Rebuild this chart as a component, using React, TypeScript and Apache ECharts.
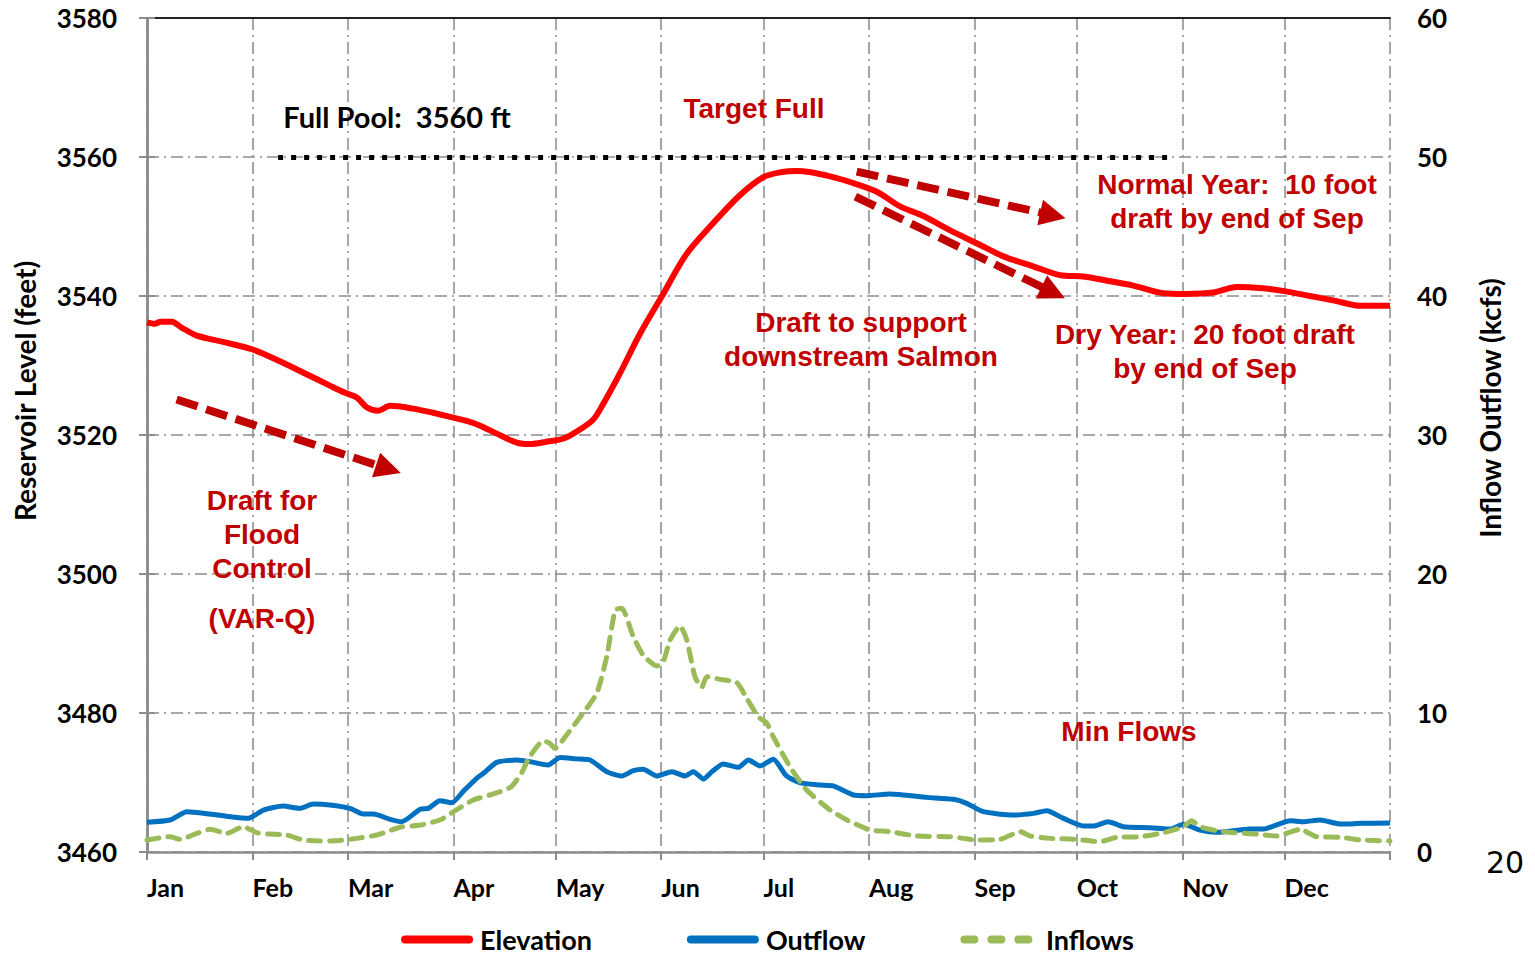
import React, { useEffect, useRef } from "react";
import * as echarts from "echarts";

// ---- Data ----
const monthStarts = [0, 31, 59, 90, 120, 151, 181, 212, 243, 273, 304, 334];
const monthLabels = ["Jan", "Feb", "Mar", "Apr", "May", "Jun", "Jul", "Aug", "Sep", "Oct", "Nov", "Dec"];
const elevTicks = [3460, 3480, 3500, 3520, 3540, 3560, 3580];
const flowTicks = [0, 10, 20, 30, 40, 50, 60];

const elevDays = [0, 2.3, 4, 7.3, 10, 14.6, 22.3, 31, 39, 45.8, 53.7, 58, 61.6, 64.5, 67.9, 71.4, 78.1, 84, 89, 94.8, 98, 102.7, 108.6, 112.5, 117, 122.3, 126.2, 131, 134, 138.9, 144.8, 151.1, 158.5, 166.3, 174.1, 181, 186, 190.8, 195, 200.6, 206.4, 214.3, 221.1, 228, 236, 243.6, 251.5, 260, 268.1, 275, 282, 289.6, 298.4, 305, 313.1, 320, 327.8, 334, 341.5, 349, 356.2, 365];
const elevValues = [3536.2, 3536.0, 3536.3, 3536.3, 3535.5, 3534.3, 3533.4, 3532.3, 3530.6, 3529.0, 3527.1, 3526.1, 3525.4, 3524.0, 3523.5, 3524.2, 3523.8, 3523.2, 3522.6, 3521.9, 3521.3, 3520.2, 3518.9, 3518.7, 3519.0, 3519.5, 3520.5, 3522.2, 3524.5, 3528.9, 3534.6, 3539.9, 3546.1, 3550.5, 3554.5, 3557.1, 3557.8, 3558.0, 3557.8, 3557.2, 3556.4, 3555.0, 3552.9, 3551.5, 3549.4, 3547.6, 3545.7, 3544.3, 3543.0, 3542.8, 3542.2, 3541.5, 3540.4, 3540.3, 3540.5, 3541.3, 3541.1, 3540.7, 3540.0, 3539.3, 3538.6, 3538.6];

const outDays = [0, 6.8, 11.7, 18.5, 24.4, 29.7, 34.2, 40, 44.9, 48.8, 53.7, 59.6, 63.5, 66.5, 71.4, 74.8, 80.2, 82.6, 86, 89.5, 93, 96.8, 98.8, 102.7, 108.6, 112.5, 117.8, 121.3, 126, 130.1, 135, 139.4, 142.8, 145.7, 149.7, 154.1, 158, 160.4, 163.4, 166, 169.2, 173.6, 176.6, 180, 183.9, 187.8, 191.7, 197.6, 201.5, 207.4, 211.3, 218.2, 229, 236.8, 240.7, 245.6, 254.4, 260.3, 264.2, 269.1, 275, 277.9, 282.3, 286.7, 294.5, 300.4, 304.3, 309.2, 314.1, 323.9, 327.8, 335.7, 339.6, 344.5, 350.4, 356.8, 365];
const outValues = [2.14, 2.3, 2.9, 2.73, 2.54, 2.42, 3.02, 3.31, 3.14, 3.45, 3.38, 3.14, 2.73, 2.73, 2.35, 2.18, 3.07, 3.14, 3.69, 3.55, 4.4, 5.3, 5.66, 6.45, 6.62, 6.5, 6.26, 6.79, 6.7, 6.62, 5.78, 5.47, 5.85, 5.95, 5.47, 5.78, 5.47, 5.78, 5.25, 5.8, 6.33, 6.09, 6.62, 6.19, 6.67, 5.47, 4.99, 4.82, 4.75, 4.1, 4.05, 4.17, 3.93, 3.79, 3.5, 2.9, 2.66, 2.78, 2.97, 2.42, 1.87, 1.87, 2.18, 1.82, 1.75, 1.65, 1.99, 1.58, 1.42, 1.65, 1.65, 2.25, 2.18, 2.3, 2.01, 2.06, 2.09];

const inDays = [0, 6.8, 9.7, 14.6, 18.5, 23.4, 28.3, 32.2, 36.1, 41, 45.9, 50.8, 55.7, 61.6, 67.5, 74.3, 80.2, 86, 90, 95.8, 100.7, 103.7, 107, 110, 112.5, 116.4, 118.3, 119.8, 123.2, 129.1, 132.1, 135, 137.5, 139.4, 142.8, 145.7, 149.7, 151.6, 153.6, 156.5, 158.5, 160.9, 162.9, 164.4, 168.3, 173.2, 176.1, 179.5, 182, 183.9, 188.8, 193.7, 200.6, 205.5, 209.4, 212.3, 218.2, 226, 235.8, 239.7, 243.6, 250.5, 256.4, 259.3, 265.2, 273, 279.8, 284.7, 291.6, 298.4, 304.3, 306.7, 309.2, 314.1, 319, 325.9, 331.7, 338.6, 343.5, 350.4, 356.8, 365];
const inValues = [0.86, 1.1, 0.91, 1.34, 1.63, 1.34, 1.82, 1.39, 1.29, 1.22, 0.86, 0.79, 0.81, 0.98, 1.22, 1.78, 1.94, 2.3, 2.9, 3.74, 4.1, 4.34, 4.7, 5.7, 6.9, 8.0, 7.82, 7.46, 8.42, 10.34, 11.42, 14.05, 17.41, 17.53, 15.49, 14.17, 13.38, 13.69, 15.25, 16.26, 15.25, 12.61, 11.85, 12.61, 12.42, 12.18, 11.06, 9.73, 9.26, 8.29, 6.14, 4.46, 3.02, 2.3, 1.87, 1.58, 1.46, 1.15, 1.1, 0.98, 0.86, 0.91, 1.46, 1.15, 0.98, 0.91, 0.74, 1.06, 1.1, 1.39, 1.82, 2.25, 1.82, 1.53, 1.39, 1.29, 1.15, 1.63, 1.1, 1.06, 0.86, 0.8];

const fullPool = 3560;
const fullPoolRange = [38.5, 301];
// arrows: [startDay, startElev, endDay, endElev]
const arrowFlood = [8.7, 3525.1, 70.9, 3515.1];
const arrowNormal = [208.4, 3557.9, 266.0, 3551.6];
const arrowDry = [208, 3554.3, 266.1, 3540.5];

const RED_TXT = "#C00000";
const AX_FONT = "Lato, 'Noto Sans', sans-serif";
const ANN_FONT = "'Liberation Sans', Arial, sans-serif";
const gridDash = { color: "#8c8c8c", width: 1.5, type: [12, 5, 2, 5] as any };

const ICON_SOLID = "path://M4,0 L68,0 A4,4 0 0 1 68,8 L4,8 A4,4 0 0 1 4,0 Z";
const ICON_DASH =
  "path://M4,0 L14,0 A4,4 0 0 1 14,8 L4,8 A4,4 0 0 1 4,0 Z M31,0 L41,0 A4,4 0 0 1 41,8 L31,8 A4,4 0 0 1 31,0 Z M58,0 L68,0 A4,4 0 0 1 68,8 L58,8 A4,4 0 0 1 58,0 Z";

export default function App() {
  const ref = useRef<HTMLDivElement>(null);
  useEffect(() => {
    if (!ref.current) return;
    const chart = echarts.init(ref.current, null, { renderer: "svg" });
    const pair = (xs: number[], ys: number[]) => xs.map((x, i) => [x, ys[i]]);
    const arrowLine = (a: number[]) => [{ coord: [a[0], a[1]] }, { coord: [a[2], a[3]] }];
    const annText = (text: string, x: number, y: number, color = RED_TXT, font = ANN_FONT, size = 28) => ({
      type: "text",
      x,
      y,
      z: 100,
      style: {
        text,
        fill: color,
        font: `bold ${size}px ${font}`,
        textAlign: "center",
        textVerticalAlign: "middle",
        lineHeight: 34,
      },
    });
    chart.setOption({
      animation: false,
      backgroundColor: "#ffffff",
      grid: { left: 147, right: 145, top: 18, bottom: 104, containLabel: false },
      xAxis: [
        {
          type: "value",
          min: 0,
          max: 365,
          position: "bottom",
          axisLine: { show: true, lineStyle: { color: "#8c8c8c", width: 2.5 } },
          axisTick: { show: true, length: 8, customValues: [...monthStarts, 365], lineStyle: { color: "#8c8c8c", width: 2 } },
          axisLabel: {
            show: true,
            customValues: monthStarts,
            formatter: (v: number) => monthLabels[monthStarts.indexOf(Math.round(v))] ?? "",
            align: "left",
            margin: 22,
            color: "#000",
            fontFamily: AX_FONT,
            fontWeight: "bold",
            fontSize: 25,
          },
          splitLine: { show: true, lineStyle: gridDash },
        },
        {
          type: "value",
          min: 0,
          max: 365,
          position: "top",
          axisLine: { show: true, onZero: false, lineStyle: { color: "#222", width: 2 } },
          axisTick: { show: false },
          axisLabel: { show: false },
          splitLine: { show: false },
        },
      ],
      yAxis: [
        {
          type: "value",
          min: elevTicks[0],
          max: elevTicks[elevTicks.length - 1],
          interval: 20,
          position: "left",
          axisLine: { show: true, lineStyle: { color: "#8c8c8c", width: 2.5 } },
          axisTick: { show: true, length: 8, lineStyle: { color: "#8c8c8c", width: 2 } },
          axisLabel: {
            margin: 30,
            color: "#000",
            fontFamily: AX_FONT,
            fontWeight: "bold",
            fontSize: 26,
            formatter: (v: number) => String(v),
          },
          splitLine: { show: true, lineStyle: gridDash },
        },
        {
          type: "value",
          min: flowTicks[0],
          max: flowTicks[flowTicks.length - 1],
          interval: 10,
          position: "right",
          axisLine: { show: true, lineStyle: { color: "#8c8c8c", width: 2.5 } },
          axisTick: { show: true, length: 8, lineStyle: { color: "#8c8c8c", width: 2 } },
          axisLabel: {
            margin: 27,
            color: "#000",
            fontFamily: AX_FONT,
            fontWeight: "bold",
            fontSize: 26,
            formatter: (v: number) => String(v),
          },
          splitLine: { show: false },
        },
      ],
      legend: {
        data: [
          { name: "Elevation", icon: ICON_SOLID, itemStyle: { color: "#FF0000", borderWidth: 0 } },
          { name: "Outflow", icon: ICON_SOLID, itemStyle: { color: "#0070C0", borderWidth: 0 } },
          { name: "Inflows", icon: ICON_DASH, itemStyle: { color: "#9BBB59", borderWidth: 0 } },
        ],
        left: "center",
        top: 921,
        itemWidth: 72,
        itemHeight: 8,
        itemGap: 95,
        formatter: (n: string) => (n === "Inflows" ? " " + n : n),
        textStyle: {
          color: "#000",
          fontFamily: AX_FONT,
          fontWeight: "bold",
          fontSize: 27,
          padding: [0, 0, 0, 2],
        },
      },
      series: [
        {
          name: "Elevation",
          type: "line",
          yAxisIndex: 0,
          data: pair(elevDays, elevValues),
          symbol: "none",
          smooth: 0.3,
          color: "#FF0000",
          lineStyle: { color: "#FF0000", width: 6 },
          z: 3,
          markLine: {
            silent: true,
            symbol: ["none", "none"],
            label: { show: false },
            lineStyle: { color: "#000", width: 5, type: [5, 8] as any },
            data: [[{ coord: [fullPoolRange[0], fullPool] }, { coord: [fullPoolRange[1], fullPool] }]],
          },
        },
        {
          name: "Outflow",
          type: "line",
          yAxisIndex: 1,
          data: pair(outDays, outValues),
          symbol: "none",
          smooth: 0.2,
          color: "#0070C0",
          lineStyle: { color: "#0070C0", width: 5 },
          z: 2,
        },
        {
          name: "Inflows",
          type: "line",
          yAxisIndex: 1,
          data: pair(inDays, inValues),
          symbol: "none",
          smooth: 0.2,
          color: "#9BBB59",
          lineStyle: { color: "#9BBB59", width: 5, type: [12, 9] as any, cap: "round" },
          z: 2,
        },
        {
          name: "arrows",
          type: "line",
          yAxisIndex: 0,
          data: [],
          z: 5,
          markLine: {
            silent: true,
            symbol: ["none", "triangle"],
            symbolSize: [26, 26],
            label: { show: false },
            lineStyle: { color: "#C00000", width: 8, type: [22, 9] as any },
            itemStyle: { color: "#C00000" },
            data: [arrowLine(arrowFlood), arrowLine(arrowNormal), arrowLine(arrowDry)],
          },
        },
      ],
      graphic: [
        annText("Full Pool:  3560 ft", 397, 116, "#000", AX_FONT, 29),
        annText("Target Full", 754, 108),
        annText("Normal Year:  10 foot\ndraft by end of Sep", 1237, 201),
        annText("Dry Year:  20 foot draft\nby end of Sep", 1205, 351),
        annText("Draft to support\ndownstream Salmon", 861, 339),
        annText("Draft for\nFlood\nControl", 262, 534),
        annText("(VAR-Q)", 262, 618),
        annText("Min Flows", 1129, 731),
        {
          type: "text",
          x: 25,
          y: 391,
          rotation: Math.PI / 2,
          style: {
            text: "Reservoir Level (feet)",
            fill: "#000",
            font: `bold 28px ${AX_FONT}`,
            textAlign: "center",
            textVerticalAlign: "middle",
          },
        },
        {
          type: "text",
          x: 1490,
          y: 408,
          rotation: Math.PI / 2,
          style: {
            text: "Inflow Outflow (kcfs)",
            fill: "#000",
            font: `bold 28px ${AX_FONT}`,
            textAlign: "center",
            textVerticalAlign: "middle",
          },
        },
        {
          type: "text",
          x: 1505,
          y: 862,
          style: {
            text: "20",
            fill: "#000",
            font: `30px 'DejaVu Sans', sans-serif`,
            textAlign: "center",
            textVerticalAlign: "middle",
          },
        },
      ],
    });
    return () => chart.dispose();
  }, []);
  return (
    <div
      ref={ref}
      style={{ position: "fixed", left: 0, top: 0, width: 1535, height: 956, background: "#fff" }}
    />
  );
}
